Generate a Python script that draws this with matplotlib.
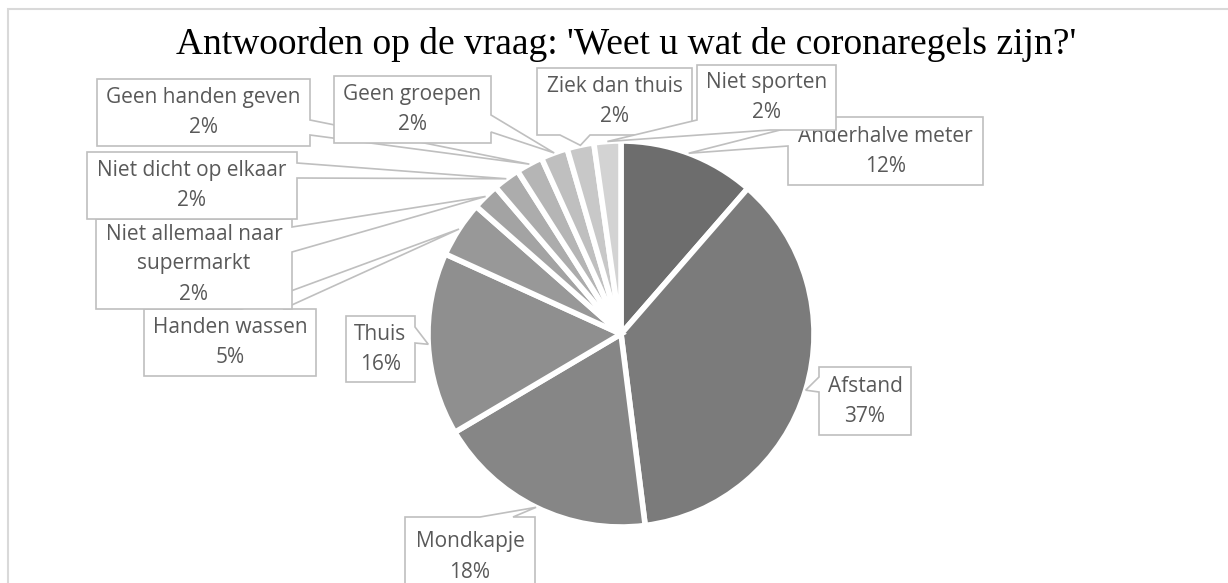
import matplotlib.pyplot as plt
from matplotlib.patches import Polygon, Rectangle
import numpy as np

W, H = 1228, 583

title = "Antwoorden op de vraag: 'Weet u wat de coronaregels zijn?'"
categories = ['Anderhalve meter', 'Afstand', 'Mondkapje', 'Thuis', 'Handen wassen',
              'Niet allemaal naar\nsupermarkt', 'Niet dicht op elkaar',
              'Geen handen geven', 'Geen groepen', 'Ziek dan thuis', 'Niet sporten']
shares = [11.4, 36.6, 18.5, 15.3, 4.7, 2.25, 2.25, 2.25, 2.25, 2.25, 2.25]
pct_labels = ['12%', '37%', '18%', '16%', '5%', '2%', '2%', '2%', '2%', '2%', '2%']
colors = ['#6d6d6d', '#7b7b7b', '#868686', '#8f8f8f', '#989898', '#a3a3a3',
          '#acacac', '#b5b5b5', '#bfbfbf', '#c8c8c8', '#d3d3d3']
explode = [0, 0.015, 0, 0, 0, 0, 0, 0, 0, 0, 0]

# callout boxes (x0, y0, x1, y1) in pixels from top-left, and pointer base points
boxes = [(788, 117, 983, 185), (819, 367, 911, 435), (405, 517, 535, 597),
         (346, 316, 415, 382), (144, 309, 316, 376), (96, 219, 292, 309),
         (87, 152, 297, 219), (97, 79, 310, 146), (334, 76, 491, 143),
         (537, 68, 692, 135), (697, 65, 836, 130)]
bases = [((788, 128), (788, 146)), ((819, 377), (819, 392)), ((480, 517), (513, 517)),
         ((415, 327), (415, 343)), ((242, 309), (283, 309)), ((292, 227), (292, 252)),
         ((297, 163), (297, 178)), ((310, 120), (310, 135)), ((491, 115), (491, 132)),
         ((560, 135), (590, 135)), ((697, 120), (770, 130))]

TXT = '#595959'
EDGE = '#bfbfbf'
FONT = 'Open Sans'


def perim_t(box, p):
    x0, y0, x1, y1 = box
    x, y = p
    d = [abs(y - y0), abs(x - x1), abs(y - y1), abs(x - x0)]
    s = int(np.argmin(d))
    if s == 0:
        return (x - x0) / (x1 - x0)
    if s == 1:
        return 1 + (y - y0) / (y1 - y0)
    if s == 2:
        return 2 + (x1 - x) / (x1 - x0)
    return 3 + (y1 - y) / (y1 - y0)


def perim_pt(box, t):
    x0, y0, x1, y1 = box
    s = int(np.floor(t)) % 4
    f = t - np.floor(t)
    if s == 0:
        return (x0 + f * (x1 - x0), y0)
    if s == 1:
        return (x1, y0 + f * (y1 - y0))
    if s == 2:
        return (x1 - f * (x1 - x0), y1)
    return (x0, y1 - f * (y1 - y0))


def callout(box, base, tip):
    ta, tb = sorted([perim_t(box, base[0]), perim_t(box, base[1])])
    pts = [perim_pt(box, tb)]
    for k in range(int(np.floor(tb)) + 1, int(np.floor(ta + 4)) + 1):
        pts.append(perim_pt(box, k))
    pts.append(perim_pt(box, ta))
    pts = [(x, H - y) for x, y in pts]
    pts.append(tip)
    return pts


fig = plt.figure(figsize=(W / 100, H / 100), dpi=100)
ax = fig.add_axes([0, 0, 1, 1])

cx, cy, R = 621, H - 334, 193
wedges, _ = ax.pie(shares, colors=colors, startangle=90, counterclock=False,
                   center=(cx, cy), radius=R, explode=explode,
                   wedgeprops=dict(edgecolor='white', linewidth=4))
ax.set_xlim(0, W)
ax.set_ylim(0, H)
ax.set_aspect('auto')
ax.axis('off')

# chart frame
ax.add_patch(Rectangle((8, -20), 1300, H - 9 + 20, fill=False,
                       edgecolor='#d9d9d9', linewidth=1.5, zorder=1))

ax.text(626, H - 45, title, ha='center', va='center', fontsize=27,
        family='Liberation Serif', color='black')

for i, w in enumerate(wedges):
    mid = np.deg2rad((w.theta1 + w.theta2) / 2)
    tip = (w.center[0] + w.r * np.cos(mid), w.center[1] + w.r * np.sin(mid))
    z = 5 + i
    ax.add_patch(Polygon(callout(boxes[i], bases[i], tip), closed=True,
                         facecolor='white', edgecolor=EDGE, linewidth=1.2, zorder=z))
    x0, y0, x1, y1 = boxes[i]
    lines = categories[i].split('\n') + [pct_labels[i]]
    mx, my = (x0 + x1) / 2, (y0 + y1) / 2
    n = len(lines)
    for j, s in enumerate(lines):
        ly = my + 30 * (j - (n - 1) / 2)
        ax.text(mx, H - ly, s, ha='center', va='center', fontsize=15,
                family=FONT, color=TXT, zorder=z + 0.5)

plt.savefig('out.png', dpi=100, facecolor='white')
